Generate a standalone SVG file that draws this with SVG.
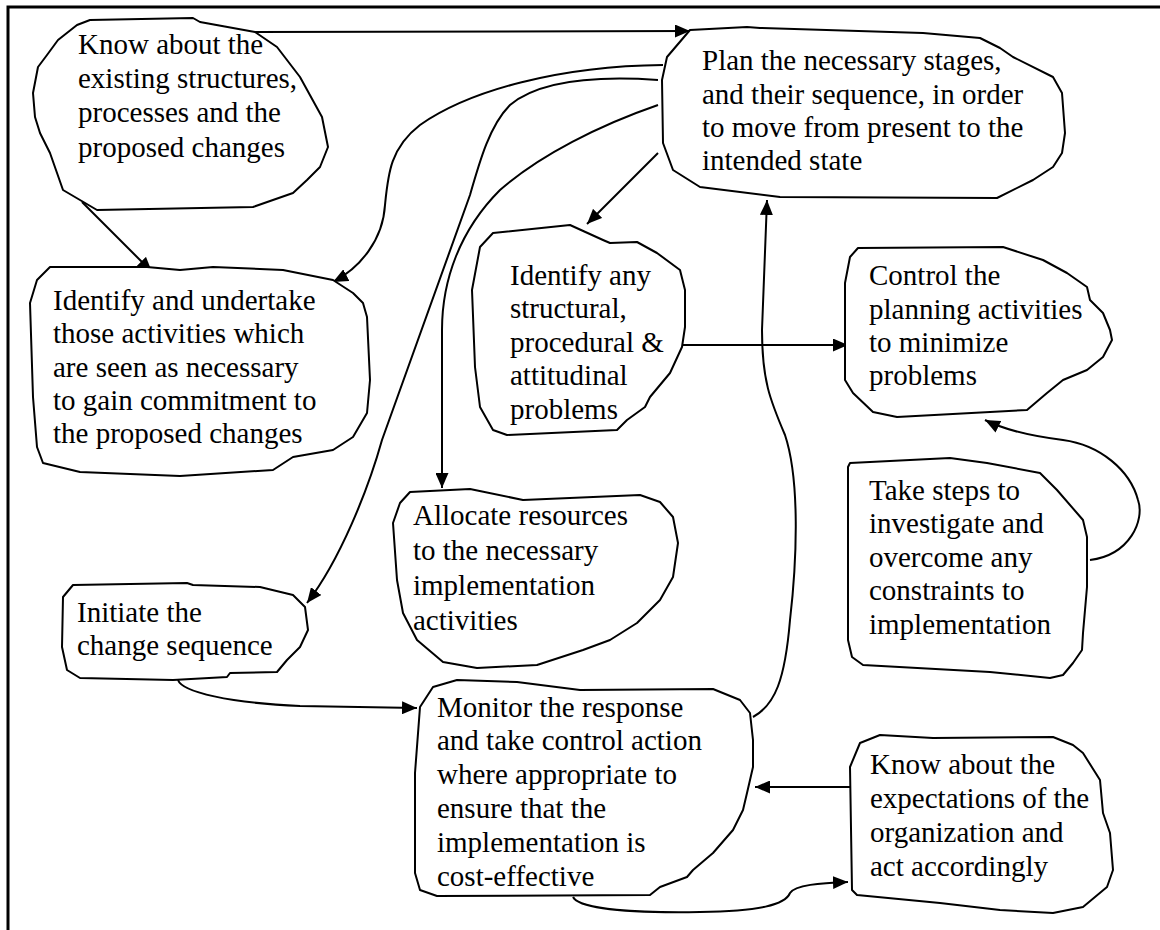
<svg xmlns="http://www.w3.org/2000/svg" width="1160" height="930" viewBox="0 0 1160 930">
  <defs>
    <marker id="arrow" markerUnits="userSpaceOnUse" markerWidth="16" markerHeight="13" refX="15" refY="6.5" orient="auto">
      <path d="M0,0 L15,6.5 L0,13 Z" fill="#000"/>
    </marker>
    <style>
      .blob { fill: #fff; stroke: #000; stroke-width: 2; stroke-linejoin: round; }
      .conn { fill: none; stroke: #000; stroke-width: 2; marker-end: url(#arrow); }
      .lbl { font-size: 29px; fill: #000; }
      .frame { fill: none; stroke: #000; stroke-width: 3; }
    </style>
  </defs>

  <rect x="0" y="0" width="1160" height="930" fill="#fff"/>
  <path class="frame" d="M8,930 L8,7 L1160,7"/>

  <!-- connectors -->
  <g id="connectors">
    <path class="conn" d="M255,32 L690,31"/>
    <path class="conn" d="M82,202 L152,272"/>
    <path class="conn" d="M663,65 C560,66 470,90 420,125 C390,148 388,175 385,205 C383,240 360,268 333,282"/>
    <path class="conn" d="M658,80 C600,76 540,80 510,105 C490,125 480,160 470,195 L382,440 C368,490 340,560 307,603"/>
    <path class="conn" d="M658,105 C600,125 540,155 500,190 C460,230 442,280 442,330 L442,488"/>
    <path class="conn" d="M658,153 L587,224"/>
    <path class="conn" d="M682,345 L848,345"/>
    <path class="conn" d="M1090,560 C1130,555 1145,520 1138,500 C1130,470 1100,445 1063,440 C1030,436 1005,430 985,420"/>
    <path class="conn" d="M178,680 C182,692 230,703 300,706 L417,708"/>
    <path class="conn" d="M753,717 C775,705 785,680 790,620 C797,560 800,480 785,435 C770,400 762,380 762,330 L767,200"/>
    <path class="conn" d="M850,787 L755,787"/>
    <path class="conn" d="M573,897 C580,910 640,913 700,912 C760,911 785,905 790,893 C795,885 820,883 848,882"/>
  </g>

  <g font-family="'Liberation Serif', 'Times New Roman', Tinos, 'DejaVu Serif', serif">
  <!-- Know about the existing structures -->
  <g id="node-existing">
    <path class="blob" d="M90,20 L193,18 L200,22 L255,32 L277,47 L300,77 L322,117 L328,147 L320,167 L307,180 L293,193 L253,207 L97,210 L80,200 L63,190 L50,153 L40,133 L35,117 L33,93 L38,67 L47,55 L58,40 L77,25 Z"/>
    <text class="lbl"><tspan x="78" y="54">Know about the</tspan><tspan x="78" y="88">existing structures,</tspan><tspan x="78" y="122">processes and the</tspan><tspan x="78" y="157">proposed changes</tspan></text>
  </g>

  <!-- Plan the necessary stages -->
  <g id="node-plan">
    <path class="blob" d="M690,30 L747,27 L760,28 L923,33 L980,38 L1000,48 L1013,57 L1053,77 L1062,93 L1065,133 L1062,153 L1053,167 L1033,180 L997,198 L780,197 L700,187 L673,170 L663,143 L662,80 L667,57 Z"/>
    <text class="lbl"><tspan x="702" y="70">Plan the necessary stages,</tspan><tspan x="702" y="103.5">and their sequence, in order</tspan><tspan x="702" y="137">to move from present to the</tspan><tspan x="702" y="170">intended state</tspan></text>
  </g>

  <!-- Identify and undertake -->
  <g id="node-commitment">
    <path class="blob" d="M50,267 L147,267 L180,270 L213,267 L283,270 L333,280 L353,293 L363,303 L367,317 L370,380 L367,413 L353,437 L333,450 L293,457 L273,470 L180,476 L80,472 L43,463 L37,447 L33,397 L30,303 L37,280 Z"/>
    <text class="lbl"><tspan x="53" y="310">Identify and undertake</tspan><tspan x="53" y="343">those activities which</tspan><tspan x="53" y="377">are seen as necessary</tspan><tspan x="53" y="410">to gain commitment to</tspan><tspan x="53" y="443">the proposed changes</tspan></text>
  </g>

  <!-- Identify any problems -->
  <g id="node-problems">
    <path class="blob" d="M493,233 L570,225 L603,240 L610,243 L637,242 L657,253 L680,270 L685,290 L685,327 L682,347 L670,373 L650,397 L645,407 L627,420 L617,430 L507,435 L493,430 L480,407 L475,367 L472,290 L480,247 Z"/>
    <text class="lbl"><tspan x="510" y="285">Identify any</tspan><tspan x="510" y="318">structural,</tspan><tspan x="510" y="352">procedural &amp;</tspan><tspan x="510" y="385">attitudinal</tspan><tspan x="510" y="419">problems</tspan></text>
  </g>

  <!-- Control the planning activities -->
  <g id="node-control">
    <path class="blob" d="M858,248 L1003,247 L1043,260 L1067,273 L1087,287 L1090,300 L1103,313 L1110,330 L1112,340 L1103,357 L1087,370 L1063,380 L1047,393 L1027,410 L897,417 L873,412 L853,393 L845,380 L845,283 L850,257 Z"/>
    <text class="lbl"><tspan x="869" y="285">Control the</tspan><tspan x="869" y="319">planning activities</tspan><tspan x="869" y="352">to minimize</tspan><tspan x="869" y="385">problems</tspan></text>
  </g>

  <!-- Take steps to investigate -->
  <g id="node-constraints">
    <path class="blob" d="M850,463 L950,458 L987,463 L1040,473 L1057,490 L1083,520 L1087,537 L1087,587 L1083,633 L1082,650 L1073,663 L1063,675 L1050,678 L990,672 L863,665 L852,657 L848,640 L848,467 Z"/>
    <text class="lbl"><tspan x="869" y="500">Take steps to</tspan><tspan x="869" y="533">investigate and</tspan><tspan x="869" y="567">overcome any</tspan><tspan x="869" y="600">constraints to</tspan><tspan x="869" y="634">implementation</tspan></text>
  </g>

  <!-- Allocate resources -->
  <g id="node-allocate">
    <path class="blob" d="M410,492 L470,489 L523,500 L640,495 L660,502 L673,517 L678,543 L673,577 L660,600 L637,623 L610,640 L583,650 L537,665 L477,668 L443,662 L417,640 L403,613 L397,580 L393,523 L400,503 Z"/>
    <text class="lbl"><tspan x="413" y="525">Allocate resources</tspan><tspan x="413" y="560">to the necessary</tspan><tspan x="413" y="595">implementation</tspan><tspan x="413" y="630">activities</tspan></text>
  </g>

  <!-- Initiate the change sequence -->
  <g id="node-initiate">
    <path class="blob" d="M73,585 L187,583 L193,585 L260,587 L293,595 L305,607 L308,630 L300,647 L287,660 L277,672 L230,673 L227,677 L173,680 L80,678 L67,670 L62,647 L63,597 Z"/>
    <text class="lbl"><tspan x="77" y="622">Initiate the</tspan><tspan x="77" y="655">change sequence</tspan></text>
  </g>

  <!-- Monitor the response -->
  <g id="node-monitor">
    <path class="blob" d="M420,707 L433,687 L457,680 L517,682 L580,690 L713,689 L740,700 L750,713 L753,740 L753,767 L747,793 L743,810 L733,830 L713,853 L693,870 L687,877 L660,887 L650,895 L437,896 L420,890 L415,873 L415,773 Z"/>
    <text class="lbl"><tspan x="437" y="717">Monitor the response</tspan><tspan x="437" y="750">and take control action</tspan><tspan x="437" y="784">where appropriate to</tspan><tspan x="437" y="818">ensure that the</tspan><tspan x="437" y="852">implementation is</tspan><tspan x="437" y="886">cost-effective</tspan></text>
  </g>

  <!-- Know about the expectations -->
  <g id="node-expectations">
    <path class="blob" d="M860,743 L880,735 L933,738 L1053,737 L1073,745 L1083,753 L1100,780 L1103,813 L1110,833 L1113,870 L1107,887 L1083,907 L1053,913 L1000,910 L940,903 L857,895 L852,890 L850,767 Z"/>
    <text class="lbl"><tspan x="870" y="774">Know about the</tspan><tspan x="870" y="808">expectations of the</tspan><tspan x="870" y="842">organization and</tspan><tspan x="870" y="876">act accordingly</tspan></text>
  </g>
  </g>
</svg>
